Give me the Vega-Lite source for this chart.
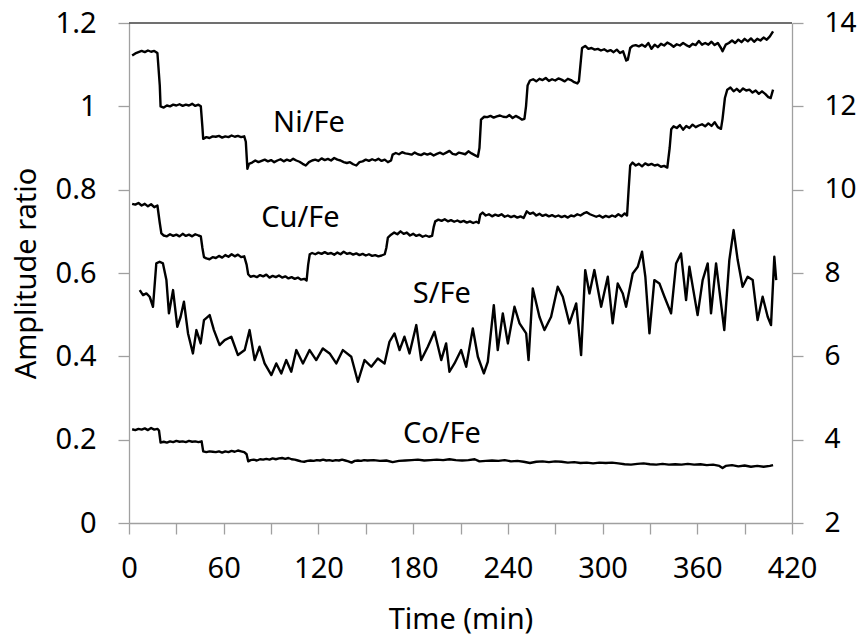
{
  "$schema": "https://vega.github.io/schema/vega-lite/v6.json",
  "width": 663,
  "height": 500,
  "autosize": "none",
  "padding": {"left": 129, "top": 23, "right": 73, "bottom": 114},
  "background": "white",
  "config": {
    "view": {"stroke": null},
    "font": "Noto Sans",
    "axis": {
      "domainColor": "#a0a0a0",
      "tickColor": "#a0a0a0",
      "domainWidth": 1.3,
      "tickWidth": 1.3,
      "tickSize": 11,
      "labelColor": "#000000",
      "labelFont": "Noto Sans",
      "labelFontSize": 29,
      "titleFont": "Noto Sans",
      "titleFontSize": 29,
      "titleFontWeight": "normal",
      "titleColor": "#000000",
      "grid": false
    }
  },
  "datasets": {
    "steps": [
      {"s":"Ni/Fe","t":2,"v":1.122},{"s":"Ni/Fe","t":4,"v":1.127},{"s":"Ni/Fe","t":6,"v":1.13},{"s":"Ni/Fe","t":8,"v":1.133},{"s":"Ni/Fe","t":10,"v":1.13},{"s":"Ni/Fe","t":12,"v":1.134},{"s":"Ni/Fe","t":14,"v":1.131},{"s":"Ni/Fe","t":16,"v":1.133},{"s":"Ni/Fe","t":18,"v":1.128},{"s":"Ni/Fe","t":19.5,"v":1.05},{"s":"Ni/Fe","t":20,"v":1.0},{"s":"Ni/Fe","t":22,"v":0.997},{"s":"Ni/Fe","t":24,"v":1.002},{"s":"Ni/Fe","t":26,"v":1.0},{"s":"Ni/Fe","t":28,"v":1.004},{"s":"Ni/Fe","t":30,"v":1.002},{"s":"Ni/Fe","t":32,"v":1.005},{"s":"Ni/Fe","t":34,"v":1.001},{"s":"Ni/Fe","t":36,"v":1.004},{"s":"Ni/Fe","t":38,"v":1.002},{"s":"Ni/Fe","t":40,"v":1.006},{"s":"Ni/Fe","t":42,"v":1.001},{"s":"Ni/Fe","t":44,"v":1.004},{"s":"Ni/Fe","t":45.5,"v":1.0},{"s":"Ni/Fe","t":46.5,"v":0.95},{"s":"Ni/Fe","t":47,"v":0.922},{"s":"Ni/Fe","t":49,"v":0.926},{"s":"Ni/Fe","t":51,"v":0.924},{"s":"Ni/Fe","t":53,"v":0.928},{"s":"Ni/Fe","t":55,"v":0.927},{"s":"Ni/Fe","t":57,"v":0.929},{"s":"Ni/Fe","t":59,"v":0.925},{"s":"Ni/Fe","t":61,"v":0.928},{"s":"Ni/Fe","t":63,"v":0.926},{"s":"Ni/Fe","t":65,"v":0.93},{"s":"Ni/Fe","t":67,"v":0.927},{"s":"Ni/Fe","t":69,"v":0.929},{"s":"Ni/Fe","t":71,"v":0.926},{"s":"Ni/Fe","t":73,"v":0.928},{"s":"Ni/Fe","t":74,"v":0.915},{"s":"Ni/Fe","t":75,"v":0.85},{"s":"Ni/Fe","t":76,"v":0.862},{"s":"Ni/Fe","t":78,"v":0.865},{"s":"Ni/Fe","t":80,"v":0.87},{"s":"Ni/Fe","t":82,"v":0.866},{"s":"Ni/Fe","t":84,"v":0.869},{"s":"Ni/Fe","t":86,"v":0.872},{"s":"Ni/Fe","t":88,"v":0.868},{"s":"Ni/Fe","t":90,"v":0.871},{"s":"Ni/Fe","t":92,"v":0.866},{"s":"Ni/Fe","t":94,"v":0.87},{"s":"Ni/Fe","t":96,"v":0.873},{"s":"Ni/Fe","t":98,"v":0.868},{"s":"Ni/Fe","t":100,"v":0.872},{"s":"Ni/Fe","t":102,"v":0.869},{"s":"Ni/Fe","t":104,"v":0.874},{"s":"Ni/Fe","t":106,"v":0.87},{"s":"Ni/Fe","t":108,"v":0.867},{"s":"Ni/Fe","t":110,"v":0.862},{"s":"Ni/Fe","t":112,"v":0.858},{"s":"Ni/Fe","t":114,"v":0.866},{"s":"Ni/Fe","t":116,"v":0.87},{"s":"Ni/Fe","t":118,"v":0.872},{"s":"Ni/Fe","t":120,"v":0.869},{"s":"Ni/Fe","t":122,"v":0.875},{"s":"Ni/Fe","t":124,"v":0.871},{"s":"Ni/Fe","t":126,"v":0.874},{"s":"Ni/Fe","t":128,"v":0.87},{"s":"Ni/Fe","t":130,"v":0.876},{"s":"Ni/Fe","t":132,"v":0.872},{"s":"Ni/Fe","t":134,"v":0.87},{"s":"Ni/Fe","t":136,"v":0.866},{"s":"Ni/Fe","t":138,"v":0.864},{"s":"Ni/Fe","t":140,"v":0.866},{"s":"Ni/Fe","t":142,"v":0.861},{"s":"Ni/Fe","t":144,"v":0.858},{"s":"Ni/Fe","t":146,"v":0.866},{"s":"Ni/Fe","t":148,"v":0.868},{"s":"Ni/Fe","t":150,"v":0.872},{"s":"Ni/Fe","t":152,"v":0.869},{"s":"Ni/Fe","t":154,"v":0.873},{"s":"Ni/Fe","t":156,"v":0.87},{"s":"Ni/Fe","t":158,"v":0.874},{"s":"Ni/Fe","t":160,"v":0.869},{"s":"Ni/Fe","t":162,"v":0.872},{"s":"Ni/Fe","t":164,"v":0.866},{"s":"Ni/Fe","t":166,"v":0.87},{"s":"Ni/Fe","t":167,"v":0.884},{"s":"Ni/Fe","t":169,"v":0.888},{"s":"Ni/Fe","t":171,"v":0.885},{"s":"Ni/Fe","t":173,"v":0.89},{"s":"Ni/Fe","t":175,"v":0.887},{"s":"Ni/Fe","t":177,"v":0.886},{"s":"Ni/Fe","t":179,"v":0.884},{"s":"Ni/Fe","t":181,"v":0.889},{"s":"Ni/Fe","t":183,"v":0.885},{"s":"Ni/Fe","t":185,"v":0.883},{"s":"Ni/Fe","t":187,"v":0.887},{"s":"Ni/Fe","t":189,"v":0.884},{"s":"Ni/Fe","t":191,"v":0.887},{"s":"Ni/Fe","t":193,"v":0.882},{"s":"Ni/Fe","t":195,"v":0.886},{"s":"Ni/Fe","t":197,"v":0.889},{"s":"Ni/Fe","t":199,"v":0.885},{"s":"Ni/Fe","t":201,"v":0.889},{"s":"Ni/Fe","t":203,"v":0.893},{"s":"Ni/Fe","t":205,"v":0.886},{"s":"Ni/Fe","t":207,"v":0.884},{"s":"Ni/Fe","t":209,"v":0.889},{"s":"Ni/Fe","t":211,"v":0.887},{"s":"Ni/Fe","t":213,"v":0.885},{"s":"Ni/Fe","t":215,"v":0.892},{"s":"Ni/Fe","t":217,"v":0.887},{"s":"Ni/Fe","t":219,"v":0.883},{"s":"Ni/Fe","t":221,"v":0.879},{"s":"Ni/Fe","t":222,"v":0.9},{"s":"Ni/Fe","t":223,"v":0.968},{"s":"Ni/Fe","t":225,"v":0.975},{"s":"Ni/Fe","t":227,"v":0.974},{"s":"Ni/Fe","t":229,"v":0.977},{"s":"Ni/Fe","t":231,"v":0.973},{"s":"Ni/Fe","t":233,"v":0.976},{"s":"Ni/Fe","t":235,"v":0.978},{"s":"Ni/Fe","t":237,"v":0.975},{"s":"Ni/Fe","t":239,"v":0.974},{"s":"Ni/Fe","t":241,"v":0.979},{"s":"Ni/Fe","t":243,"v":0.972},{"s":"Ni/Fe","t":245,"v":0.977},{"s":"Ni/Fe","t":247,"v":0.973},{"s":"Ni/Fe","t":249,"v":0.968},{"s":"Ni/Fe","t":250.5,"v":0.97},{"s":"Ni/Fe","t":251.5,"v":1.0},{"s":"Ni/Fe","t":252.5,"v":1.05},{"s":"Ni/Fe","t":254,"v":1.062},{"s":"Ni/Fe","t":256,"v":1.065},{"s":"Ni/Fe","t":258,"v":1.06},{"s":"Ni/Fe","t":260,"v":1.066},{"s":"Ni/Fe","t":262,"v":1.063},{"s":"Ni/Fe","t":264,"v":1.068},{"s":"Ni/Fe","t":266,"v":1.061},{"s":"Ni/Fe","t":268,"v":1.065},{"s":"Ni/Fe","t":270,"v":1.062},{"s":"Ni/Fe","t":272,"v":1.067},{"s":"Ni/Fe","t":274,"v":1.064},{"s":"Ni/Fe","t":276,"v":1.06},{"s":"Ni/Fe","t":278,"v":1.066},{"s":"Ni/Fe","t":280,"v":1.063},{"s":"Ni/Fe","t":282,"v":1.058},{"s":"Ni/Fe","t":284,"v":1.055},{"s":"Ni/Fe","t":285,"v":1.06},{"s":"Ni/Fe","t":286,"v":1.1},{"s":"Ni/Fe","t":287,"v":1.14},{"s":"Ni/Fe","t":289,"v":1.145},{"s":"Ni/Fe","t":291,"v":1.138},{"s":"Ni/Fe","t":293,"v":1.14},{"s":"Ni/Fe","t":295,"v":1.136},{"s":"Ni/Fe","t":297,"v":1.138},{"s":"Ni/Fe","t":299,"v":1.134},{"s":"Ni/Fe","t":301,"v":1.137},{"s":"Ni/Fe","t":303,"v":1.132},{"s":"Ni/Fe","t":305,"v":1.135},{"s":"Ni/Fe","t":307,"v":1.13},{"s":"Ni/Fe","t":309,"v":1.136},{"s":"Ni/Fe","t":311,"v":1.128},{"s":"Ni/Fe","t":313,"v":1.132},{"s":"Ni/Fe","t":315,"v":1.11},{"s":"Ni/Fe","t":316,"v":1.112},{"s":"Ni/Fe","t":317.5,"v":1.14},{"s":"Ni/Fe","t":319,"v":1.145},{"s":"Ni/Fe","t":321,"v":1.147},{"s":"Ni/Fe","t":323,"v":1.144},{"s":"Ni/Fe","t":325,"v":1.148},{"s":"Ni/Fe","t":327,"v":1.143},{"s":"Ni/Fe","t":329,"v":1.152},{"s":"Ni/Fe","t":331,"v":1.138},{"s":"Ni/Fe","t":333,"v":1.148},{"s":"Ni/Fe","t":335,"v":1.142},{"s":"Ni/Fe","t":337,"v":1.15},{"s":"Ni/Fe","t":339,"v":1.146},{"s":"Ni/Fe","t":341,"v":1.153},{"s":"Ni/Fe","t":343,"v":1.149},{"s":"Ni/Fe","t":345,"v":1.143},{"s":"Ni/Fe","t":347,"v":1.149},{"s":"Ni/Fe","t":349,"v":1.146},{"s":"Ni/Fe","t":351,"v":1.152},{"s":"Ni/Fe","t":353,"v":1.147},{"s":"Ni/Fe","t":355,"v":1.143},{"s":"Ni/Fe","t":357,"v":1.15},{"s":"Ni/Fe","t":359,"v":1.147},{"s":"Ni/Fe","t":361,"v":1.157},{"s":"Ni/Fe","t":363,"v":1.148},{"s":"Ni/Fe","t":365,"v":1.152},{"s":"Ni/Fe","t":367,"v":1.148},{"s":"Ni/Fe","t":369,"v":1.155},{"s":"Ni/Fe","t":371,"v":1.147},{"s":"Ni/Fe","t":373,"v":1.152},{"s":"Ni/Fe","t":375,"v":1.14},{"s":"Ni/Fe","t":376,"v":1.132},{"s":"Ni/Fe","t":378,"v":1.148},{"s":"Ni/Fe","t":380,"v":1.152},{"s":"Ni/Fe","t":382,"v":1.158},{"s":"Ni/Fe","t":384,"v":1.152},{"s":"Ni/Fe","t":386,"v":1.16},{"s":"Ni/Fe","t":388,"v":1.154},{"s":"Ni/Fe","t":390,"v":1.162},{"s":"Ni/Fe","t":392,"v":1.156},{"s":"Ni/Fe","t":394,"v":1.163},{"s":"Ni/Fe","t":396,"v":1.155},{"s":"Ni/Fe","t":398,"v":1.162},{"s":"Ni/Fe","t":400,"v":1.158},{"s":"Ni/Fe","t":402,"v":1.165},{"s":"Ni/Fe","t":404,"v":1.16},{"s":"Ni/Fe","t":406,"v":1.168},{"s":"Ni/Fe","t":408,"v":1.18},

      {"s":"Cu/Fe","t":2,"v":0.766},{"s":"Cu/Fe","t":4,"v":0.764},{"s":"Cu/Fe","t":6,"v":0.768},{"s":"Cu/Fe","t":8,"v":0.762},{"s":"Cu/Fe","t":10,"v":0.766},{"s":"Cu/Fe","t":12,"v":0.76},{"s":"Cu/Fe","t":14,"v":0.765},{"s":"Cu/Fe","t":16,"v":0.758},{"s":"Cu/Fe","t":18,"v":0.762},{"s":"Cu/Fe","t":19.5,"v":0.72},{"s":"Cu/Fe","t":20.5,"v":0.695},{"s":"Cu/Fe","t":22,"v":0.69},{"s":"Cu/Fe","t":24,"v":0.688},{"s":"Cu/Fe","t":26,"v":0.693},{"s":"Cu/Fe","t":28,"v":0.689},{"s":"Cu/Fe","t":30,"v":0.692},{"s":"Cu/Fe","t":32,"v":0.688},{"s":"Cu/Fe","t":34,"v":0.694},{"s":"Cu/Fe","t":36,"v":0.689},{"s":"Cu/Fe","t":38,"v":0.692},{"s":"Cu/Fe","t":40,"v":0.688},{"s":"Cu/Fe","t":42,"v":0.693},{"s":"Cu/Fe","t":44,"v":0.69},{"s":"Cu/Fe","t":45.5,"v":0.688},{"s":"Cu/Fe","t":46.5,"v":0.66},{"s":"Cu/Fe","t":47.5,"v":0.638},{"s":"Cu/Fe","t":49,"v":0.635},{"s":"Cu/Fe","t":51,"v":0.633},{"s":"Cu/Fe","t":53,"v":0.638},{"s":"Cu/Fe","t":55,"v":0.636},{"s":"Cu/Fe","t":57,"v":0.641},{"s":"Cu/Fe","t":59,"v":0.637},{"s":"Cu/Fe","t":61,"v":0.643},{"s":"Cu/Fe","t":63,"v":0.639},{"s":"Cu/Fe","t":65,"v":0.645},{"s":"Cu/Fe","t":67,"v":0.64},{"s":"Cu/Fe","t":69,"v":0.644},{"s":"Cu/Fe","t":71,"v":0.638},{"s":"Cu/Fe","t":73,"v":0.64},{"s":"Cu/Fe","t":74.5,"v":0.62},{"s":"Cu/Fe","t":75.5,"v":0.597},{"s":"Cu/Fe","t":77,"v":0.591},{"s":"Cu/Fe","t":79,"v":0.593},{"s":"Cu/Fe","t":81,"v":0.59},{"s":"Cu/Fe","t":83,"v":0.595},{"s":"Cu/Fe","t":85,"v":0.592},{"s":"Cu/Fe","t":87,"v":0.596},{"s":"Cu/Fe","t":89,"v":0.589},{"s":"Cu/Fe","t":91,"v":0.593},{"s":"Cu/Fe","t":93,"v":0.59},{"s":"Cu/Fe","t":95,"v":0.594},{"s":"Cu/Fe","t":97,"v":0.589},{"s":"Cu/Fe","t":99,"v":0.592},{"s":"Cu/Fe","t":101,"v":0.587},{"s":"Cu/Fe","t":103,"v":0.59},{"s":"Cu/Fe","t":105,"v":0.586},{"s":"Cu/Fe","t":107,"v":0.589},{"s":"Cu/Fe","t":109,"v":0.584},{"s":"Cu/Fe","t":111,"v":0.586},{"s":"Cu/Fe","t":112.5,"v":0.582},{"s":"Cu/Fe","t":113.5,"v":0.62},{"s":"Cu/Fe","t":114.5,"v":0.645},{"s":"Cu/Fe","t":116,"v":0.648},{"s":"Cu/Fe","t":118,"v":0.645},{"s":"Cu/Fe","t":120,"v":0.649},{"s":"Cu/Fe","t":122,"v":0.646},{"s":"Cu/Fe","t":124,"v":0.65},{"s":"Cu/Fe","t":126,"v":0.646},{"s":"Cu/Fe","t":128,"v":0.648},{"s":"Cu/Fe","t":130,"v":0.644},{"s":"Cu/Fe","t":132,"v":0.649},{"s":"Cu/Fe","t":134,"v":0.645},{"s":"Cu/Fe","t":136,"v":0.651},{"s":"Cu/Fe","t":138,"v":0.646},{"s":"Cu/Fe","t":140,"v":0.648},{"s":"Cu/Fe","t":142,"v":0.644},{"s":"Cu/Fe","t":144,"v":0.647},{"s":"Cu/Fe","t":146,"v":0.643},{"s":"Cu/Fe","t":148,"v":0.646},{"s":"Cu/Fe","t":150,"v":0.642},{"s":"Cu/Fe","t":152,"v":0.645},{"s":"Cu/Fe","t":154,"v":0.641},{"s":"Cu/Fe","t":156,"v":0.643},{"s":"Cu/Fe","t":158,"v":0.64},{"s":"Cu/Fe","t":160,"v":0.642},{"s":"Cu/Fe","t":162,"v":0.645},{"s":"Cu/Fe","t":163,"v":0.66},{"s":"Cu/Fe","t":164,"v":0.685},{"s":"Cu/Fe","t":166,"v":0.692},{"s":"Cu/Fe","t":168,"v":0.697},{"s":"Cu/Fe","t":170,"v":0.693},{"s":"Cu/Fe","t":172,"v":0.7},{"s":"Cu/Fe","t":174,"v":0.694},{"s":"Cu/Fe","t":176,"v":0.697},{"s":"Cu/Fe","t":178,"v":0.69},{"s":"Cu/Fe","t":180,"v":0.694},{"s":"Cu/Fe","t":182,"v":0.689},{"s":"Cu/Fe","t":184,"v":0.692},{"s":"Cu/Fe","t":186,"v":0.687},{"s":"Cu/Fe","t":188,"v":0.69},{"s":"Cu/Fe","t":190,"v":0.687},{"s":"Cu/Fe","t":192,"v":0.689},{"s":"Cu/Fe","t":193,"v":0.71},{"s":"Cu/Fe","t":194,"v":0.724},{"s":"Cu/Fe","t":196,"v":0.728},{"s":"Cu/Fe","t":198,"v":0.725},{"s":"Cu/Fe","t":200,"v":0.729},{"s":"Cu/Fe","t":202,"v":0.724},{"s":"Cu/Fe","t":204,"v":0.727},{"s":"Cu/Fe","t":206,"v":0.723},{"s":"Cu/Fe","t":208,"v":0.726},{"s":"Cu/Fe","t":210,"v":0.722},{"s":"Cu/Fe","t":212,"v":0.725},{"s":"Cu/Fe","t":214,"v":0.721},{"s":"Cu/Fe","t":216,"v":0.724},{"s":"Cu/Fe","t":218,"v":0.72},{"s":"Cu/Fe","t":220,"v":0.723},{"s":"Cu/Fe","t":221.5,"v":0.72},{"s":"Cu/Fe","t":222.5,"v":0.74},{"s":"Cu/Fe","t":224,"v":0.745},{"s":"Cu/Fe","t":226,"v":0.738},{"s":"Cu/Fe","t":228,"v":0.741},{"s":"Cu/Fe","t":230,"v":0.736},{"s":"Cu/Fe","t":232,"v":0.74},{"s":"Cu/Fe","t":234,"v":0.737},{"s":"Cu/Fe","t":236,"v":0.741},{"s":"Cu/Fe","t":238,"v":0.735},{"s":"Cu/Fe","t":240,"v":0.738},{"s":"Cu/Fe","t":242,"v":0.734},{"s":"Cu/Fe","t":244,"v":0.737},{"s":"Cu/Fe","t":246,"v":0.733},{"s":"Cu/Fe","t":248,"v":0.736},{"s":"Cu/Fe","t":250,"v":0.732},{"s":"Cu/Fe","t":252,"v":0.748},{"s":"Cu/Fe","t":254,"v":0.742},{"s":"Cu/Fe","t":256,"v":0.745},{"s":"Cu/Fe","t":258,"v":0.738},{"s":"Cu/Fe","t":260,"v":0.742},{"s":"Cu/Fe","t":262,"v":0.737},{"s":"Cu/Fe","t":264,"v":0.74},{"s":"Cu/Fe","t":266,"v":0.736},{"s":"Cu/Fe","t":268,"v":0.739},{"s":"Cu/Fe","t":270,"v":0.735},{"s":"Cu/Fe","t":272,"v":0.738},{"s":"Cu/Fe","t":274,"v":0.734},{"s":"Cu/Fe","t":276,"v":0.737},{"s":"Cu/Fe","t":278,"v":0.733},{"s":"Cu/Fe","t":280,"v":0.738},{"s":"Cu/Fe","t":282,"v":0.736},{"s":"Cu/Fe","t":284,"v":0.741},{"s":"Cu/Fe","t":286,"v":0.738},{"s":"Cu/Fe","t":288,"v":0.743},{"s":"Cu/Fe","t":290,"v":0.746},{"s":"Cu/Fe","t":292,"v":0.741},{"s":"Cu/Fe","t":294,"v":0.738},{"s":"Cu/Fe","t":296,"v":0.735},{"s":"Cu/Fe","t":298,"v":0.738},{"s":"Cu/Fe","t":300,"v":0.733},{"s":"Cu/Fe","t":302,"v":0.737},{"s":"Cu/Fe","t":304,"v":0.734},{"s":"Cu/Fe","t":306,"v":0.738},{"s":"Cu/Fe","t":308,"v":0.735},{"s":"Cu/Fe","t":310,"v":0.741},{"s":"Cu/Fe","t":312,"v":0.736},{"s":"Cu/Fe","t":314,"v":0.743},{"s":"Cu/Fe","t":315.5,"v":0.738},{"s":"Cu/Fe","t":316.5,"v":0.8},{"s":"Cu/Fe","t":317.5,"v":0.858},{"s":"Cu/Fe","t":319,"v":0.865},{"s":"Cu/Fe","t":321,"v":0.858},{"s":"Cu/Fe","t":323,"v":0.862},{"s":"Cu/Fe","t":325,"v":0.856},{"s":"Cu/Fe","t":327,"v":0.863},{"s":"Cu/Fe","t":329,"v":0.859},{"s":"Cu/Fe","t":331,"v":0.862},{"s":"Cu/Fe","t":333,"v":0.858},{"s":"Cu/Fe","t":335,"v":0.86},{"s":"Cu/Fe","t":337,"v":0.855},{"s":"Cu/Fe","t":339,"v":0.857},{"s":"Cu/Fe","t":341,"v":0.853},{"s":"Cu/Fe","t":342.5,"v":0.9},{"s":"Cu/Fe","t":343.5,"v":0.945},{"s":"Cu/Fe","t":345,"v":0.952},{"s":"Cu/Fe","t":347,"v":0.948},{"s":"Cu/Fe","t":349,"v":0.955},{"s":"Cu/Fe","t":351,"v":0.944},{"s":"Cu/Fe","t":353,"v":0.953},{"s":"Cu/Fe","t":355,"v":0.948},{"s":"Cu/Fe","t":357,"v":0.956},{"s":"Cu/Fe","t":359,"v":0.95},{"s":"Cu/Fe","t":361,"v":0.954},{"s":"Cu/Fe","t":363,"v":0.957},{"s":"Cu/Fe","t":365,"v":0.952},{"s":"Cu/Fe","t":367,"v":0.959},{"s":"Cu/Fe","t":369,"v":0.953},{"s":"Cu/Fe","t":371,"v":0.962},{"s":"Cu/Fe","t":373,"v":0.95},{"s":"Cu/Fe","t":375,"v":0.946},{"s":"Cu/Fe","t":376,"v":0.97},{"s":"Cu/Fe","t":377.5,"v":1.02},{"s":"Cu/Fe","t":379,"v":1.04},{"s":"Cu/Fe","t":381,"v":1.045},{"s":"Cu/Fe","t":383,"v":1.036},{"s":"Cu/Fe","t":385,"v":1.042},{"s":"Cu/Fe","t":387,"v":1.035},{"s":"Cu/Fe","t":389,"v":1.043},{"s":"Cu/Fe","t":391,"v":1.038},{"s":"Cu/Fe","t":393,"v":1.04},{"s":"Cu/Fe","t":395,"v":1.033},{"s":"Cu/Fe","t":397,"v":1.038},{"s":"Cu/Fe","t":399,"v":1.03},{"s":"Cu/Fe","t":401,"v":1.036},{"s":"Cu/Fe","t":403,"v":1.03},{"s":"Cu/Fe","t":405,"v":1.022},{"s":"Cu/Fe","t":406.5,"v":1.02},{"s":"Cu/Fe","t":408,"v":1.04},

      {"s":"Co/Fe","t":2,"v":0.225},{"s":"Co/Fe","t":4,"v":0.223},{"s":"Co/Fe","t":6,"v":0.226},{"s":"Co/Fe","t":8,"v":0.224},{"s":"Co/Fe","t":10,"v":0.227},{"s":"Co/Fe","t":12,"v":0.223},{"s":"Co/Fe","t":14,"v":0.228},{"s":"Co/Fe","t":16,"v":0.224},{"s":"Co/Fe","t":18,"v":0.226},{"s":"Co/Fe","t":19,"v":0.222},{"s":"Co/Fe","t":20,"v":0.193},{"s":"Co/Fe","t":22,"v":0.195},{"s":"Co/Fe","t":24,"v":0.193},{"s":"Co/Fe","t":26,"v":0.196},{"s":"Co/Fe","t":28,"v":0.194},{"s":"Co/Fe","t":30,"v":0.197},{"s":"Co/Fe","t":32,"v":0.195},{"s":"Co/Fe","t":34,"v":0.196},{"s":"Co/Fe","t":36,"v":0.194},{"s":"Co/Fe","t":38,"v":0.197},{"s":"Co/Fe","t":40,"v":0.195},{"s":"Co/Fe","t":42,"v":0.196},{"s":"Co/Fe","t":44,"v":0.194},{"s":"Co/Fe","t":46,"v":0.196},{"s":"Co/Fe","t":47,"v":0.172},{"s":"Co/Fe","t":49,"v":0.17},{"s":"Co/Fe","t":51,"v":0.172},{"s":"Co/Fe","t":53,"v":0.171},{"s":"Co/Fe","t":55,"v":0.17},{"s":"Co/Fe","t":57,"v":0.172},{"s":"Co/Fe","t":59,"v":0.169},{"s":"Co/Fe","t":61,"v":0.172},{"s":"Co/Fe","t":63,"v":0.17},{"s":"Co/Fe","t":65,"v":0.173},{"s":"Co/Fe","t":67,"v":0.171},{"s":"Co/Fe","t":69,"v":0.174},{"s":"Co/Fe","t":71,"v":0.172},{"s":"Co/Fe","t":73,"v":0.17},{"s":"Co/Fe","t":74.5,"v":0.165},{"s":"Co/Fe","t":75.5,"v":0.148},{"s":"Co/Fe","t":77,"v":0.151},{"s":"Co/Fe","t":79,"v":0.152},{"s":"Co/Fe","t":81,"v":0.15},{"s":"Co/Fe","t":83,"v":0.153},{"s":"Co/Fe","t":85,"v":0.152},{"s":"Co/Fe","t":87,"v":0.154},{"s":"Co/Fe","t":89,"v":0.152},{"s":"Co/Fe","t":91,"v":0.155},{"s":"Co/Fe","t":93,"v":0.153},{"s":"Co/Fe","t":95,"v":0.155},{"s":"Co/Fe","t":97,"v":0.156},{"s":"Co/Fe","t":99,"v":0.154},{"s":"Co/Fe","t":101,"v":0.156},{"s":"Co/Fe","t":103,"v":0.153},{"s":"Co/Fe","t":105,"v":0.152},{"s":"Co/Fe","t":107,"v":0.15},{"s":"Co/Fe","t":109,"v":0.148},{"s":"Co/Fe","t":111,"v":0.147},{"s":"Co/Fe","t":113,"v":0.149},{"s":"Co/Fe","t":115,"v":0.15},{"s":"Co/Fe","t":117,"v":0.149},{"s":"Co/Fe","t":119,"v":0.151},{"s":"Co/Fe","t":121,"v":0.15},{"s":"Co/Fe","t":123,"v":0.152},{"s":"Co/Fe","t":125,"v":0.15},{"s":"Co/Fe","t":127,"v":0.151},{"s":"Co/Fe","t":129,"v":0.149},{"s":"Co/Fe","t":131,"v":0.151},{"s":"Co/Fe","t":133,"v":0.15},{"s":"Co/Fe","t":135,"v":0.152},{"s":"Co/Fe","t":137,"v":0.15},{"s":"Co/Fe","t":139,"v":0.148},{"s":"Co/Fe","t":141,"v":0.145},{"s":"Co/Fe","t":143,"v":0.149},{"s":"Co/Fe","t":145,"v":0.15},{"s":"Co/Fe","t":147,"v":0.149},{"s":"Co/Fe","t":149,"v":0.151},{"s":"Co/Fe","t":151,"v":0.15},{"s":"Co/Fe","t":155,"v":0.151},{"s":"Co/Fe","t":159,"v":0.149},{"s":"Co/Fe","t":163,"v":0.15},{"s":"Co/Fe","t":167,"v":0.146},{"s":"Co/Fe","t":171,"v":0.149},{"s":"Co/Fe","t":175,"v":0.15},{"s":"Co/Fe","t":179,"v":0.151},{"s":"Co/Fe","t":183,"v":0.152},{"s":"Co/Fe","t":187,"v":0.15},{"s":"Co/Fe","t":191,"v":0.151},{"s":"Co/Fe","t":195,"v":0.152},{"s":"Co/Fe","t":199,"v":0.151},{"s":"Co/Fe","t":203,"v":0.153},{"s":"Co/Fe","t":207,"v":0.151},{"s":"Co/Fe","t":211,"v":0.15},{"s":"Co/Fe","t":215,"v":0.151},{"s":"Co/Fe","t":219,"v":0.153},{"s":"Co/Fe","t":222,"v":0.148},{"s":"Co/Fe","t":226,"v":0.149},{"s":"Co/Fe","t":230,"v":0.15},{"s":"Co/Fe","t":234,"v":0.149},{"s":"Co/Fe","t":238,"v":0.151},{"s":"Co/Fe","t":242,"v":0.148},{"s":"Co/Fe","t":246,"v":0.149},{"s":"Co/Fe","t":250,"v":0.147},{"s":"Co/Fe","t":254,"v":0.144},{"s":"Co/Fe","t":258,"v":0.147},{"s":"Co/Fe","t":262,"v":0.148},{"s":"Co/Fe","t":266,"v":0.146},{"s":"Co/Fe","t":270,"v":0.148},{"s":"Co/Fe","t":274,"v":0.147},{"s":"Co/Fe","t":278,"v":0.145},{"s":"Co/Fe","t":282,"v":0.146},{"s":"Co/Fe","t":286,"v":0.144},{"s":"Co/Fe","t":290,"v":0.145},{"s":"Co/Fe","t":294,"v":0.143},{"s":"Co/Fe","t":298,"v":0.145},{"s":"Co/Fe","t":302,"v":0.144},{"s":"Co/Fe","t":306,"v":0.145},{"s":"Co/Fe","t":310,"v":0.143},{"s":"Co/Fe","t":314,"v":0.141},{"s":"Co/Fe","t":318,"v":0.14},{"s":"Co/Fe","t":322,"v":0.142},{"s":"Co/Fe","t":326,"v":0.143},{"s":"Co/Fe","t":330,"v":0.141},{"s":"Co/Fe","t":334,"v":0.14},{"s":"Co/Fe","t":338,"v":0.142},{"s":"Co/Fe","t":342,"v":0.14},{"s":"Co/Fe","t":346,"v":0.141},{"s":"Co/Fe","t":350,"v":0.14},{"s":"Co/Fe","t":354,"v":0.142},{"s":"Co/Fe","t":358,"v":0.14},{"s":"Co/Fe","t":362,"v":0.141},{"s":"Co/Fe","t":366,"v":0.139},{"s":"Co/Fe","t":370,"v":0.14},{"s":"Co/Fe","t":374,"v":0.137},{"s":"Co/Fe","t":376,"v":0.132},{"s":"Co/Fe","t":378,"v":0.137},{"s":"Co/Fe","t":382,"v":0.139},{"s":"Co/Fe","t":386,"v":0.136},{"s":"Co/Fe","t":390,"v":0.138},{"s":"Co/Fe","t":394,"v":0.135},{"s":"Co/Fe","t":398,"v":0.137},{"s":"Co/Fe","t":402,"v":0.135},{"s":"Co/Fe","t":406,"v":0.137},{"s":"Co/Fe","t":408,"v":0.139}
    ],
    "sulfur": [
      {"t":6.8,"v":7.59},{"t":8.9,"v":7.47},{"t":11.0,"v":7.51},{"t":13.1,"v":7.43},{"t":15.2,"v":7.19},{"t":17.3,"v":8.23},{"t":19.4,"v":8.27},{"t":21.5,"v":8.23},{"t":23.7,"v":7.83},{"t":25.3,"v":7.03},{"t":27.9,"v":7.59},{"t":30.6,"v":6.71},{"t":32.7,"v":6.95},{"t":34.8,"v":7.31},{"t":37.4,"v":6.55},{"t":40.5,"v":6.07},{"t":42.7,"v":6.63},{"t":45.4,"v":6.31},{"t":47.5,"v":6.87},{"t":51.1,"v":6.99},{"t":53.8,"v":6.63},{"t":57.4,"v":6.27},{"t":60.6,"v":6.39},{"t":64.8,"v":6.47},{"t":69.0,"v":6.03},{"t":73.3,"v":6.15},{"t":76.4,"v":6.63},{"t":79.6,"v":5.91},{"t":82.7,"v":6.23},{"t":85.9,"v":5.83},{"t":90.2,"v":5.55},{"t":93.3,"v":5.83},{"t":96.5,"v":5.59},{"t":99.6,"v":5.91},{"t":102.8,"v":5.63},{"t":106,"v":6.15},{"t":110.2,"v":5.83},{"t":114.4,"v":6.15},{"t":118.6,"v":5.91},{"t":122.8,"v":6.19},{"t":127.1,"v":6.07},{"t":131.3,"v":5.83},{"t":135.5,"v":6.15},{"t":140.8,"v":5.99},{"t":145,"v":5.39},{"t":149.2,"v":5.91},{"t":153.5,"v":5.75},{"t":157.6,"v":5.95},{"t":161.9,"v":5.83},{"t":165,"v":6.35},{"t":168.2,"v":6.55},{"t":171.4,"v":6.15},{"t":174.5,"v":6.47},{"t":177.7,"v":6.07},{"t":182,"v":6.75},{"t":185.1,"v":5.91},{"t":189.3,"v":6.23},{"t":193.5,"v":6.59},{"t":197.8,"v":5.91},{"t":200.9,"v":6.31},{"t":203,"v":5.63},{"t":206.2,"v":5.83},{"t":210.4,"v":6.15},{"t":213.6,"v":5.75},{"t":217.8,"v":6.67},{"t":221,"v":5.99},{"t":224.8,"v":5.59},{"t":227.3,"v":5.87},{"t":231.1,"v":7.23},{"t":233.6,"v":6.15},{"t":236.8,"v":7.03},{"t":240,"v":6.31},{"t":244.2,"v":7.19},{"t":247.4,"v":6.79},{"t":251.6,"v":6.55},{"t":253.1,"v":5.91},{"t":255.8,"v":7.63},{"t":260,"v":6.95},{"t":263.2,"v":6.63},{"t":267.4,"v":6.95},{"t":271.6,"v":7.67},{"t":274.8,"v":7.43},{"t":279,"v":6.79},{"t":283.3,"v":7.27},{"t":286.4,"v":6.03},{"t":289,"v":8.07},{"t":291.7,"v":7.51},{"t":294.8,"v":8.07},{"t":299.1,"v":7.19},{"t":303.3,"v":7.91},{"t":306.4,"v":6.79},{"t":309.6,"v":7.75},{"t":312.8,"v":7.51},{"t":314.9,"v":7.19},{"t":319.1,"v":7.99},{"t":322.3,"v":8.15},{"t":325,"v":8.51},{"t":327.1,"v":7.91},{"t":329.7,"v":6.55},{"t":332.8,"v":7.83},{"t":336,"v":7.75},{"t":339.2,"v":7.43},{"t":343.4,"v":7.03},{"t":346.6,"v":8.23},{"t":349.7,"v":8.47},{"t":352.9,"v":7.35},{"t":355,"v":8.15},{"t":357.5,"v":7.59},{"t":360.2,"v":6.99},{"t":363.4,"v":7.83},{"t":366.6,"v":8.23},{"t":368.7,"v":7.03},{"t":371.9,"v":8.23},{"t":377.1,"v":6.63},{"t":380.3,"v":8.31},{"t":383,"v":9.03},{"t":385.6,"v":8.31},{"t":388.7,"v":7.67},{"t":391.9,"v":7.91},{"t":395.1,"v":7.83},{"t":398.2,"v":6.87},{"t":401.4,"v":7.43},{"t":404.6,"v":6.95},{"t":406.7,"v":6.75},{"t":408.8,"v":8.39},{"t":410,"v":7.83}
    ],
    "labels": [
      {"label":"Ni/Fe","t":91.3,"v":0.939},
      {"label":"Cu/Fe","t":83.8,"v":0.711},
      {"label":"S/Fe","t":179.8,"v":0.527},
      {"label":"Co/Fe","t":173.5,"v":0.191}
    ]
  },
  "layer": [
    {
      "layer": [
        {
          "data": {"name": "steps"},
          "mark": {"type": "line", "color": "#000000", "strokeWidth": 2.4, "strokeJoin": "round"},
          "encoding": {
            "x": {"field": "t", "type": "quantitative", "scale": {"domain": [0, 420], "nice": false, "zero": false},
              "axis": {"title": "Time (min)", "values": [0,30,60,90,120,150,180,210,240,270,300,330,360,390,420],
                "labelExpr": "datum.value % 60 === 0 ? datum.label : ''", "labelPadding": 20, "titlePadding": 22, "labelOverlap": false, "labelFlush": false}},
            "y": {"field": "v", "type": "quantitative", "scale": {"domain": [0, 1.2], "nice": false, "zero": false},
              "axis": {"title": "Amplitude ratio", "orient": "left", "values": [0,0.2,0.4,0.6,0.8,1,1.2], "format": "~g", "labelPadding": 22, "titlePadding": 14, "labelFlush": false, "labelOverlap": false}},
            "detail": {"field": "s", "type": "nominal"}
          }
        },
        {
          "data": {"name": "labels"},
          "mark": {"type": "text", "align": "left", "baseline": "alphabetic", "fontSize": 29, "font": "Noto Sans", "color": "#000000"},
          "encoding": {
            "x": {"field": "t", "type": "quantitative"},
            "y": {"field": "v", "type": "quantitative"},
            "text": {"field": "label"}
          }
        },
        {
          "data": {"values": [{"top": 1.2}]},
          "mark": {"type": "rule", "color": "#404040", "strokeWidth": 1.3},
          "encoding": {"y": {"field": "top", "type": "quantitative"}}
        }
      ]
    },
    {
      "data": {"name": "sulfur"},
      "mark": {"type": "line", "color": "#000000", "strokeWidth": 2.4, "strokeJoin": "round"},
      "encoding": {
        "x": {"field": "t", "type": "quantitative"},
        "y": {"field": "v", "type": "quantitative", "scale": {"domain": [2, 14], "nice": false, "zero": false},
          "axis": {"title": null, "orient": "right", "values": [2,4,6,8,10,12,14], "labelPadding": 21, "labelFontSize": 28, "labelFlush": false, "labelOverlap": false}}
      }
    }
  ],
  "resolve": {"scale": {"y": "independent"}}
}
